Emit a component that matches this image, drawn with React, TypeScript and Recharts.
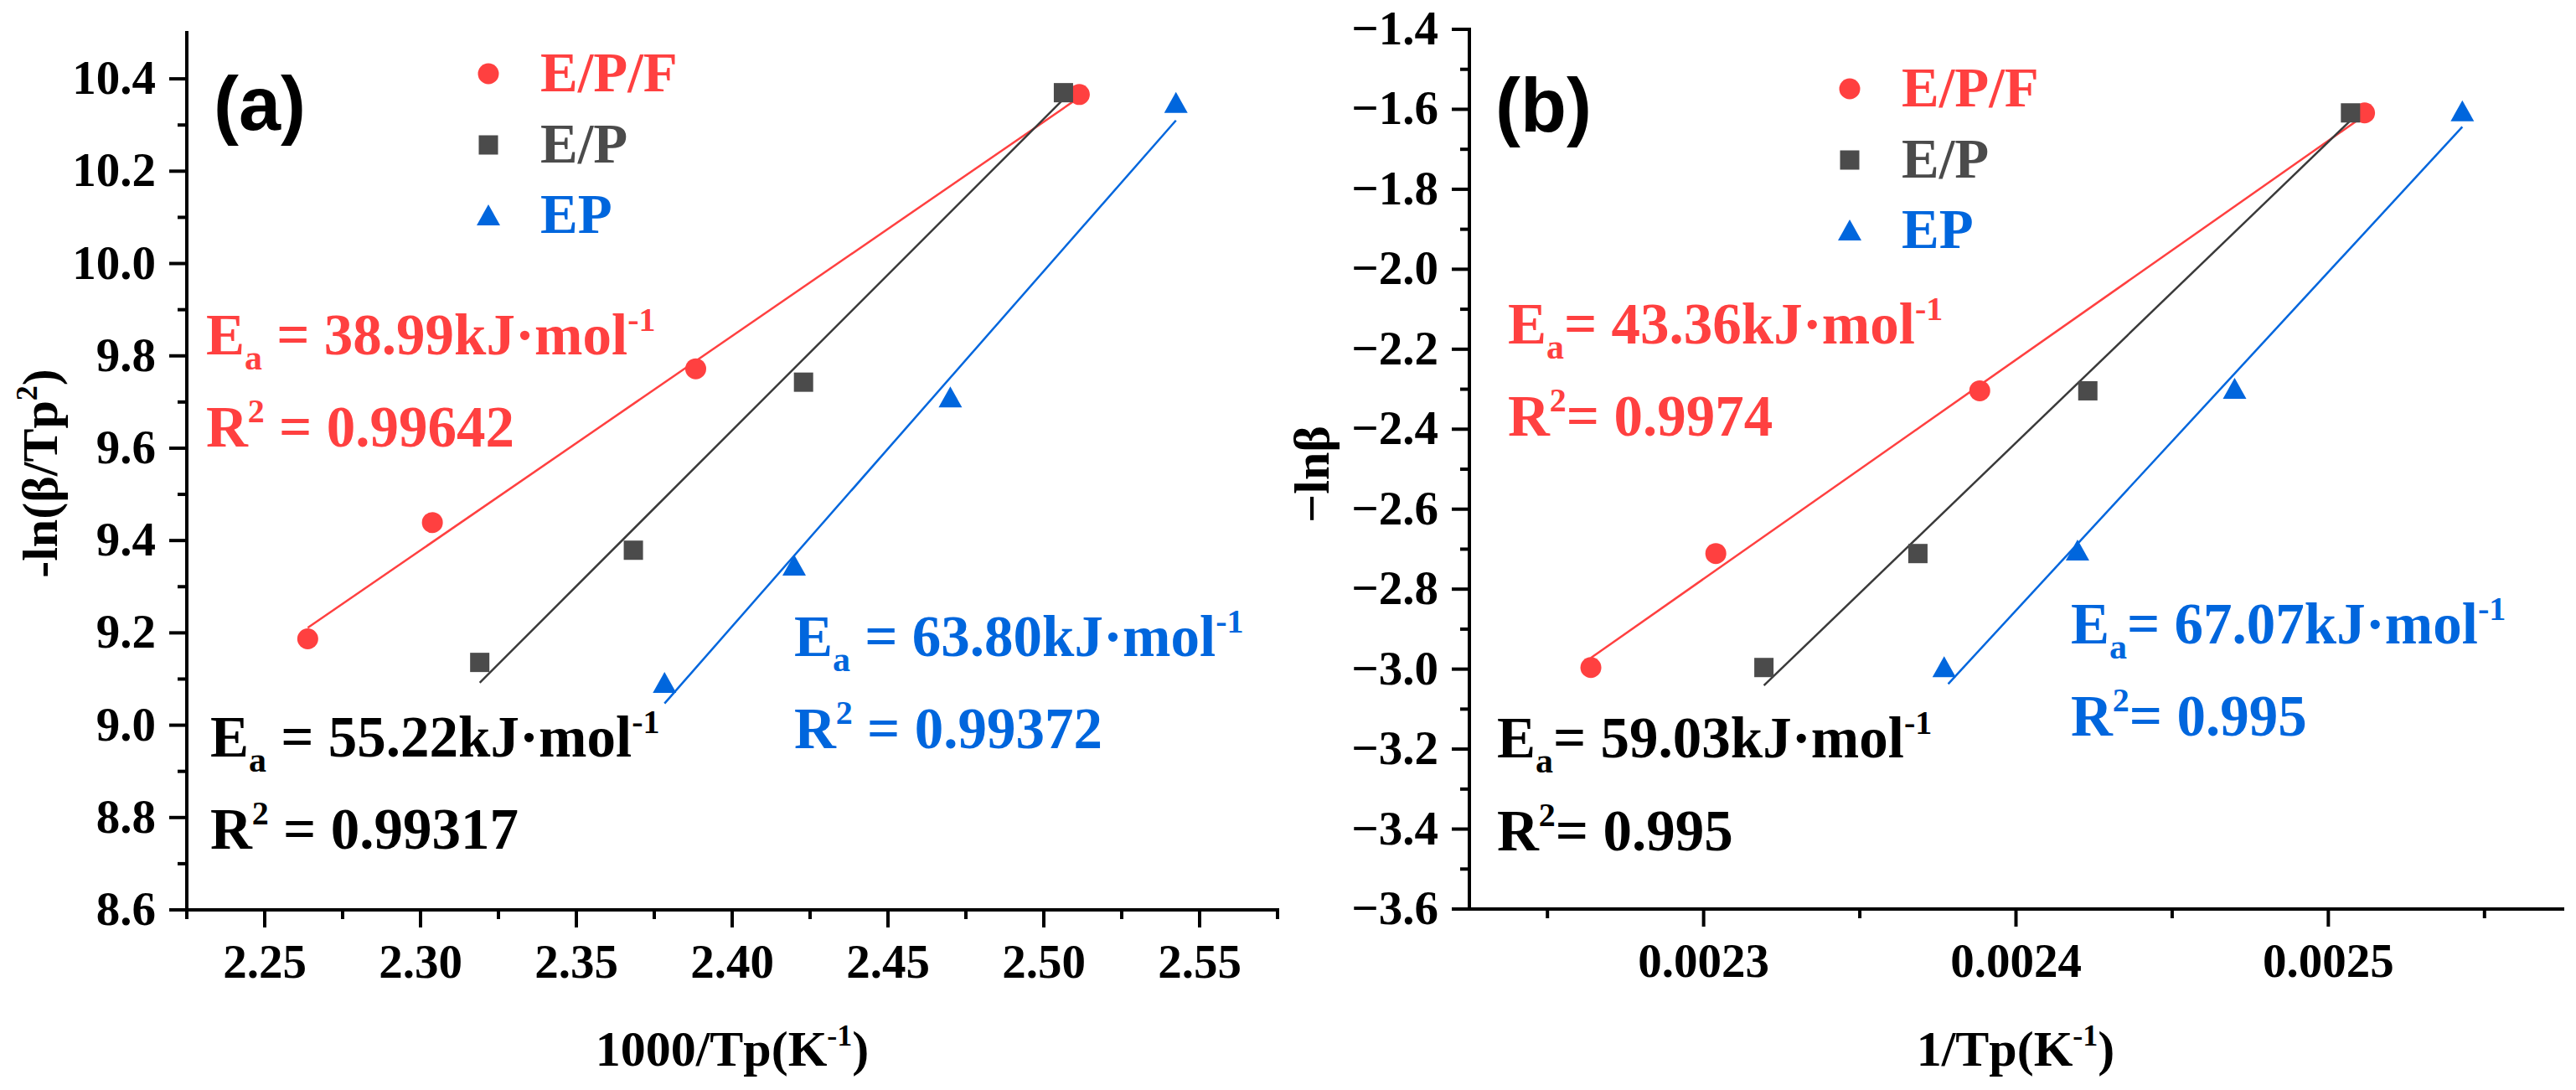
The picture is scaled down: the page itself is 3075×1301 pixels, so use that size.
import { Legend, Scatter, ScatterChart, XAxis, YAxis } from "recharts";

const RED = "#ff4040";
const GREY = "#4b4b4b";
const LINE_GREY = "#3a3a3a";
const BLUE = "#0066dd";
const SERIF = "'Liberation Serif', 'Times New Roman', 'DejaVu Serif', serif";
const SANS = "'Liberation Sans', Arial, sans-serif";

// panel (a): x = 1000/Tp, y = -ln(beta/Tp^2)
const aEpfX = [2.2638, 2.3038, 2.3883, 2.5114];
const aEpfY = [9.187, 9.439, 9.772, 10.366];
const aEpX = [2.319, 2.3683, 2.4229, 2.5063];
const aEpY = [9.136, 9.379, 9.743, 10.37];
const aPureX = [2.3783, 2.4199, 2.47, 2.5424];
const aPureY = [9.092, 9.346, 9.71, 10.348];

// linear fits (end points)
const aFitEpfX = [2.2638, 2.5114];
const aFitEpfY = [9.211, 10.36];
const aFitEpX = [2.319, 2.5063];
const aFitEpY = [9.092, 10.356];
const aFitPureX = [2.3783, 2.5424];
const aFitPureY = [9.047, 10.31];

// panel (b): x = 1/Tp, y = -ln(beta)
const bEpfX = [0.0022639, 0.0023039, 0.0023884, 0.0025116];
const bEpfY = [-2.996, -2.711, -2.304, -1.609];
const bEpX = [0.0023193, 0.0023686, 0.002423, 0.0025071];
const bEpY = [-2.996, -2.711, -2.304, -1.609];
const bPureX = [0.002377, 0.0024197, 0.00247, 0.0025429];
const bPureY = [-2.995, -2.703, -2.299, -1.605];

const bFitEpfX = [0.0022639, 0.0025116];
const bFitEpfY = [-2.972, -1.615];
const bFitEpX = [0.0023193, 0.0025071];
const bFitEpY = [-3.041, -1.628];
const bFitPureX = [0.0023783, 0.0025429];
const bFitPureY = [-3.037, -1.644];

// ticks
const aXTicks = [2.225, 2.25, 2.275, 2.3, 2.325, 2.35, 2.375, 2.4, 2.425, 2.45, 2.475, 2.5, 2.525, 2.55, 2.575];
const aXMajor = [2.25, 2.3, 2.35, 2.4, 2.45, 2.5, 2.55];
const aYTicks = [8.6, 8.7, 8.8, 8.9, 9.0, 9.1, 9.2, 9.3, 9.4, 9.5, 9.6, 9.7, 9.8, 9.9, 10.0, 10.1, 10.2, 10.3, 10.4];
const aYMajor = [8.6, 8.8, 9.0, 9.2, 9.4, 9.6, 9.8, 10.0, 10.2, 10.4];
const bXTicks = [0.00225, 0.0023, 0.00235, 0.0024, 0.00245, 0.0025, 0.00255];
const bXMajor = [0.0023, 0.0024, 0.0025];
const bYTicks = [-3.6, -3.5, -3.4, -3.3, -3.2, -3.1, -3.0, -2.9, -2.8, -2.7, -2.6, -2.5, -2.4, -2.3, -2.2, -2.1, -2.0, -1.9, -1.8, -1.7, -1.6, -1.5, -1.4];
const bYMajor = [-3.6, -3.4, -3.2, -3.0, -2.8, -2.6, -2.4, -2.2, -2.0, -1.8, -1.6, -1.4];

const names = ["E/P/F", "E/P", "EP"];
const colors = [RED, GREY, BLUE];
const shapes = ["circle", "square", "triangle"];

const pts = (xs: number[], ys: number[]) => xs.map((x, i) => ({ x, y: ys[i] }));

function Marker({ kind, cx, cy, color }: any) {
  if (kind === "circle") return <circle cx={cx} cy={cy} r={12.5} fill={color} />;
  if (kind === "square") return <rect x={cx - 11.5} y={cy - 11.5} width={23} height={23} fill={color} />;
  return (
    <polygon
      points={`${cx},${cy - 13} ${cx - 14},${cy + 12} ${cx + 14},${cy + 12}`}
      fill={color}
    />
  );
}

const isMajor = (v: number, majors: number[]) => majors.some((m) => Math.abs(m - v) < 1e-9);

const serifBold = (size: number) => ({ fontFamily: SERIF, fontWeight: 700, fontSize: size });

function bottomTick(majors: number[], fmt: (v: number) => string) {
  return (props: any) => {
    const { x, y, payload } = props;
    const major = isMajor(payload.value, majors);
    return (
      <g>
        <line x1={x} x2={x} y1={y} y2={y + (major ? 21 : 11)} stroke="#000" strokeWidth={4} />
        {major && (
          <text x={x} y={y + 81} textAnchor="middle" fill="#000" style={serifBold(57)}>
            {fmt(payload.value)}
          </text>
        )}
      </g>
    );
  };
}

function leftTick(majors: number[], fmt: (v: number) => string) {
  return (props: any) => {
    const { x, y, payload } = props;
    const major = isMajor(payload.value, majors);
    return (
      <g>
        <line x1={x - (major ? 21 : 11)} x2={x} y1={y} y2={y} stroke="#000" strokeWidth={4} />
        {major && (
          <text x={x - 37} y={y + 18} textAnchor="end" fill="#000" style={serifBold(57)}>
            {fmt(payload.value)}
          </text>
        )}
      </g>
    );
  };
}

function LegendBox() {
  const rows = [0, 85, 169];
  return (
    <svg width={300} height={260} style={{ overflow: "visible" }}>
      {names.map((n, i) => (
        <g key={n}>
          <Marker kind={shapes[i]} cx={43} cy={48 + rows[i]} color={colors[i]} />
          <text x={105} y={69 + rows[i]} fill={colors[i]} style={serifBold(67)}>
            {n}
          </text>
        </g>
      ))}
    </svg>
  );
}

const axisLine = { stroke: "#000", strokeWidth: 4, strokeLinecap: "square" as const };

function Panel(p: any) {
  const series = [pts(p.s[0], p.s[1]), pts(p.s[2], p.s[3]), pts(p.s[4], p.s[5])];
  const fits = [pts(p.f[0], p.f[1]), pts(p.f[2], p.f[3]), pts(p.f[4], p.f[5])];
  const fitColors = [RED, LINE_GREY, BLUE];
  return (
    <ScatterChart width={p.width} height={1301} margin={p.margin}>
      <XAxis
        dataKey="x"
        type="number"
        domain={p.xDomain}
        ticks={p.xTicks}
        interval={0}
        allowDataOverflow
        height={100}
        tickSize={0}
        tickMargin={0}
        tickLine={false}
        axisLine={axisLine}
        tick={bottomTick(p.xMajor, p.xFmt)}
      />
      <XAxis
        xAxisId="top"
        orientation="top"
        type="number"
        domain={p.xDomain}
        allowDataOverflow
        height={0}
        tick={false}
        tickLine={false}
        axisLine={axisLine}
      />
      <YAxis
        dataKey="y"
        type="number"
        domain={p.yDomain}
        ticks={p.yTicks}
        interval={0}
        allowDataOverflow
        width={150}
        tickSize={0}
        tickMargin={0}
        tickLine={false}
        axisLine={axisLine}
        tick={leftTick(p.yMajor, p.yFmt)}
      />
      <YAxis
        yAxisId="right"
        orientation="right"
        type="number"
        domain={p.yDomain}
        allowDataOverflow
        width={0}
        tick={false}
        tickLine={false}
        axisLine={axisLine}
      />
      {fits.map((d, i) => (
        <Scatter
          key={"fit" + i}
          data={d}
          line={{ stroke: fitColors[i], strokeWidth: 2.5 }}
          shape={() => <g />}
          isAnimationActive={false}
        />
      ))}
      {series.map((d, i) => (
        <Scatter
          key={names[i]}
          name={names[i]}
          data={d}
          fill={colors[i]}
          shape={(sp: any) => <Marker kind={shapes[i]} cx={sp.cx} cy={sp.cy} color={colors[i]} />}
          isAnimationActive={false}
        />
      ))}
      <Legend
        layout="vertical"
        align="center"
        verticalAlign="middle"
        wrapperStyle={{ position: "absolute", left: p.legend[0], top: p.legend[1], width: 300, height: 260 }}
        content={() => <LegendBox />}
      />
    </ScatterChart>
  );
}

function Ea({ x, y, color, value, tight }: any) {
  return (
    <text x={x} y={y} fill={color} style={serifBold(69)}>
      E
      <tspan dy={18} style={{ fontSize: 42 }}>a</tspan>
      <tspan dy={-18}>{tight ? "= " : " = "}{value}kJ·mol</tspan>
      <tspan dy={-28} style={{ fontSize: 40 }}>-1</tspan>
    </text>
  );
}

function R2({ x, y, color, value, tight }: any) {
  return (
    <text x={x} y={y} fill={color} style={serifBold(69)}>
      R
      <tspan dy={-29} style={{ fontSize: 40 }}>2</tspan>
      <tspan dy={29}>{tight ? "= " : " = "}{value}</tspan>
    </text>
  );
}

const titleStyle = serifBold(60);

export default function App() {
  return (
    <div style={{ position: "absolute", left: 0, top: 0, width: 3075, height: 1301, background: "#fff" }}>
      <div style={{ position: "absolute", left: 0, top: 0 }}>
        <Panel
          width={1550}
          margin={{ top: 39, right: 25, bottom: 115, left: 73 }}
          xDomain={[2.225, 2.575]}
          yDomain={[8.6, 10.5]}
          xTicks={aXTicks}
          xMajor={aXMajor}
          yTicks={aYTicks}
          yMajor={aYMajor}
          xFmt={(v: number) => v.toFixed(2)}
          yFmt={(v: number) => v.toFixed(1)}
          s={[aEpfX, aEpfY, aEpX, aEpY, aPureX, aPureY]}
          f={[aFitEpfX, aFitEpfY, aFitEpX, aFitEpY, aFitPureX, aFitPureY]}
          legend={[540, 40]}
        />
      </div>
      <div style={{ position: "absolute", left: 1560, top: 0 }}>
        <Panel
          width={1515}
          margin={{ top: 35, right: 16, bottom: 116, left: 44 }}
          xDomain={[0.002225, 0.002575]}
          yDomain={[-3.6, -1.4]}
          xTicks={bXTicks}
          xMajor={bXMajor}
          yTicks={bYTicks}
          yMajor={bYMajor}
          xFmt={(v: number) => v.toFixed(4)}
          yFmt={(v: number) => "\u2212" + Math.abs(v).toFixed(1)}
          s={[bEpfX, bEpfY, bEpX, bEpY, bPureX, bPureY]}
          f={[bFitEpfX, bFitEpfY, bFitEpX, bFitEpY, bFitPureX, bFitPureY]}
          legend={[605, 58]}
        />
      </div>
      <svg
        width={3075}
        height={1301}
        style={{ position: "absolute", left: 0, top: 0, pointerEvents: "none" }}
      >
        <text x={255} y={155} fill="#000" style={{ fontFamily: SANS, fontWeight: 700, fontSize: 90 }}>(a)</text>
        <text x={1785} y={157} fill="#000" style={{ fontFamily: SANS, fontWeight: 700, fontSize: 90 }}>(b)</text>

        <Ea x={246} y={423} color={RED} value="38.99" />
        <R2 x={246} y={533} color={RED} value="0.99642" />
        <Ea x={251} y={903} color="#000" value="55.22" />
        <R2 x={251} y={1013} color="#000" value="0.99317" />
        <Ea x={948} y={783} color={BLUE} value="63.80" />
        <R2 x={948} y={893} color={BLUE} value="0.99372" />

        <Ea x={1800} y={410} color={RED} value="43.36" tight />
        <R2 x={1800} y={520} color={RED} value="0.9974" tight />
        <Ea x={1787} y={904} color="#000" value="59.03" tight />
        <R2 x={1787} y={1015} color="#000" value="0.995" tight />
        <Ea x={2472} y={768} color={BLUE} value="67.07" tight />
        <R2 x={2472} y={878} color={BLUE} value="0.995" tight />

        <text x={874} y={1272} textAnchor="middle" fill="#000" style={titleStyle}>
          1000/Tp(K<tspan dy={-24} style={{ fontSize: 36 }}>-1</tspan><tspan dy={24}>)</tspan>
        </text>
        <text x={2406} y={1272} textAnchor="middle" fill="#000" style={titleStyle}>
          1/Tp(K<tspan dy={-24} style={{ fontSize: 36 }}>-1</tspan><tspan dy={24}>)</tspan>
        </text>
        <text x={68} y={565} textAnchor="middle" transform="rotate(-90 68 565)" fill="#000" style={titleStyle}>
          -ln(β/Tp<tspan dy={-24} style={{ fontSize: 36 }}>2</tspan><tspan dy={24}>)</tspan>
        </text>
        <text x={1586} y={566} textAnchor="middle" transform="rotate(-90 1586 566)" fill="#000" style={titleStyle}>
          −lnβ
        </text>
      </svg>
    </div>
  );
}
